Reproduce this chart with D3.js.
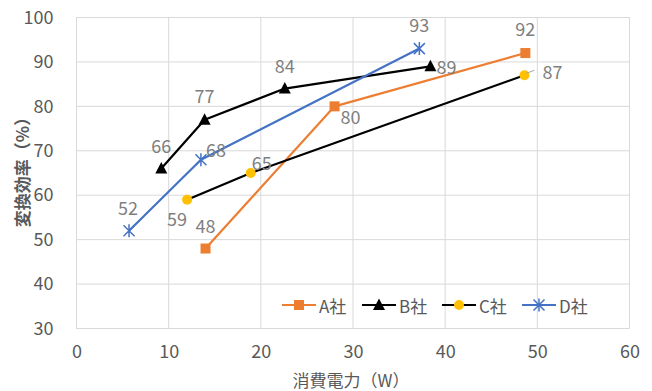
<!DOCTYPE html>
<html><head><meta charset="utf-8">
<script src="https://cdn.jsdelivr.net/npm/d3@7"></script>
<style>
html,body{margin:0;padding:0;background:#fff;}
svg{display:block;font-family:"Noto Sans CJK JP","Noto Sans",sans-serif;}
</style></head>
<body>
<svg id="chart" width="652" height="391"></svg>
<script>
// Series: power consumption (W) vs conversion efficiency (%)
const seriesNames = ["A社", "B社", "C社", "D社"];
const aX = [14, 28, 48.7];
const aY = [48, 80, 92];
const bX = [9.2, 13.9, 22.6, 38.4];
const bY = [66, 77, 84, 89];
const cX = [12, 18.9, 48.6];
const cY = [59, 65, 87];
const dX = [5.7, 13.5, 37.2];
const dY = [52, 68, 93];
const xTicks = [0, 10, 20, 30, 40, 50, 60];
const yTicks = [30, 40, 50, 60, 70, 80, 90, 100];

// label placement per point: [dx, dy] offset from marker centre
const aLabelPos = [[0, -24], [16, 10], [0, -25]];
const bLabelPos = [[0, -24], [0, -25], [0, -24], [16, 0]];
const cLabelPos = [[-10, 18], [11, -11], [28, -4]];
const dLabelPos = [[-1, -24], [15, -11], [0, -25]];

const svg = d3.select("#chart");
const x = d3.scaleLinear().domain([0, 60]).range([76.5, 629.5]);
const y = d3.scaleLinear().domain([30, 100]).range([328.5, 17.5]);

const grid = "#d9d9d9";
const tickColor = "#595959";
const labelColor = "#7f7f7f";

// gridlines
svg.append("g").selectAll("line").data(xTicks).join("line")
  .attr("x1", d => x(d)).attr("x2", d => x(d))
  .attr("y1", y(100)).attr("y2", y(30))
  .attr("stroke", grid).attr("stroke-width", 1);
svg.append("g").selectAll("line").data(yTicks).join("line")
  .attr("x1", x(0)).attr("x2", x(60))
  .attr("y1", d => y(d)).attr("y2", d => y(d))
  .attr("stroke", grid).attr("stroke-width", 1);

// axes (tick labels only; lines are the gridlines)
const xAxis = svg.append("g").attr("transform", `translate(0,${y(30)})`)
  .call(d3.axisBottom(x).tickValues(xTicks).tickSize(0).tickPadding(17));
const yAxis = svg.append("g").attr("transform", `translate(${x(0)},0)`)
  .call(d3.axisLeft(y).tickValues(yTicks).tickSize(0).tickPadding(23));
[xAxis, yAxis].forEach(g => {
  g.select(".domain").remove();
  g.selectAll("text").attr("fill", tickColor).attr("font-size", 18)
    .attr("font-family", "'Noto Sans CJK JP','Noto Sans',sans-serif");
});

// axis titles
svg.append("text").attr("x", 351).attr("y", 387).attr("text-anchor", "middle")
  .attr("fill", tickColor).attr("font-size", 17).text("消費電力（W）");
svg.append("text").attr("transform", "translate(29,168) rotate(-90)")
  .attr("text-anchor", "middle").attr("fill", tickColor).attr("font-size", 17)
  .attr("font-weight", "bold").text("変換効率（%）");

const line = d3.line().x(d => x(d[0])).y(d => y(d[1]));

const series = [
  {name: seriesNames[0], xs: aX, ys: aY, pos: aLabelPos, stroke: "#ed7d31", fill: "#ed7d31", marker: "square"},
  {name: seriesNames[1], xs: bX, ys: bY, pos: bLabelPos, stroke: "#000000", fill: "#000000", marker: "triangle"},
  {name: seriesNames[2], xs: cX, ys: cY, pos: cLabelPos, stroke: "#000000", fill: "#ffc000", marker: "circle"},
  {name: seriesNames[3], xs: dX, ys: dY, pos: dLabelPos, stroke: "#4472c4", fill: "#4472c4", marker: "star"}
];

function drawMarker(g, type, cx, cy, color) {
  if (type === "square") {
    g.append("rect").attr("x", cx - 5).attr("y", cy - 5).attr("width", 10).attr("height", 10).attr("fill", color);
  } else if (type === "triangle") {
    g.append("path").attr("d", `M${cx},${cy - 6.5}L${cx + 6},${cy + 5}L${cx - 6},${cy + 5}Z`).attr("fill", color);
  } else if (type === "circle") {
    g.append("circle").attr("cx", cx).attr("cy", cy).attr("r", 5).attr("fill", color);
  } else if (type === "star") {
    const r = 5.5;
    g.append("path")
      .attr("d", `M${cx - r},${cy - r}L${cx + r},${cy + r}M${cx - r},${cy + r}L${cx + r},${cy - r}M${cx},${cy - r - 1}L${cx},${cy + r + 1}`)
      .attr("stroke", color).attr("stroke-width", 1.5).attr("fill", "none");
  }
}

series.forEach(s => {
  const pts = s.xs.map((v, i) => [v, s.ys[i]]);
  svg.append("path").datum(pts).attr("d", line)
    .attr("fill", "none").attr("stroke", s.stroke).attr("stroke-width", 2.2)
    .attr("stroke-linejoin", "round");
  const mg = svg.append("g");
  pts.forEach(p => drawMarker(mg, s.marker, x(p[0]), y(p[1]), s.fill));
});

// leader line for C社 last label
svg.append("line")
  .attr("x1", x(cX[2]) + 2).attr("y1", y(cY[2]) - 2)
  .attr("x2", x(cX[2]) + 10).attr("y2", y(cY[2]) - 5)
  .attr("stroke", "#a6a6a6").attr("stroke-width", 1);

// data labels
series.forEach(s => {
  s.xs.forEach((v, i) => {
    svg.append("text")
      .attr("x", x(v) + s.pos[i][0]).attr("y", y(s.ys[i]) + s.pos[i][1])
      .attr("text-anchor", "middle").attr("dominant-baseline", "central")
      .attr("fill", labelColor).attr("font-size", 18)
      .text(s.ys[i]);
  });
});

// legend
const legendX = [282, 362, 442, 522];
const legendY = 305;
series.forEach((s, i) => {
  const g = svg.append("g");
  g.append("line").attr("x1", legendX[i]).attr("x2", legendX[i] + 34)
    .attr("y1", legendY).attr("y2", legendY)
    .attr("stroke", s.stroke).attr("stroke-width", 2.2);
  drawMarker(g, s.marker, legendX[i] + 17, legendY, s.fill);
  g.append("text").attr("x", legendX[i] + 37).attr("y", legendY)
    .attr("dominant-baseline", "central").attr("fill", tickColor).attr("font-size", 17)
    .text(s.name);
});
</script>
</body></html>
